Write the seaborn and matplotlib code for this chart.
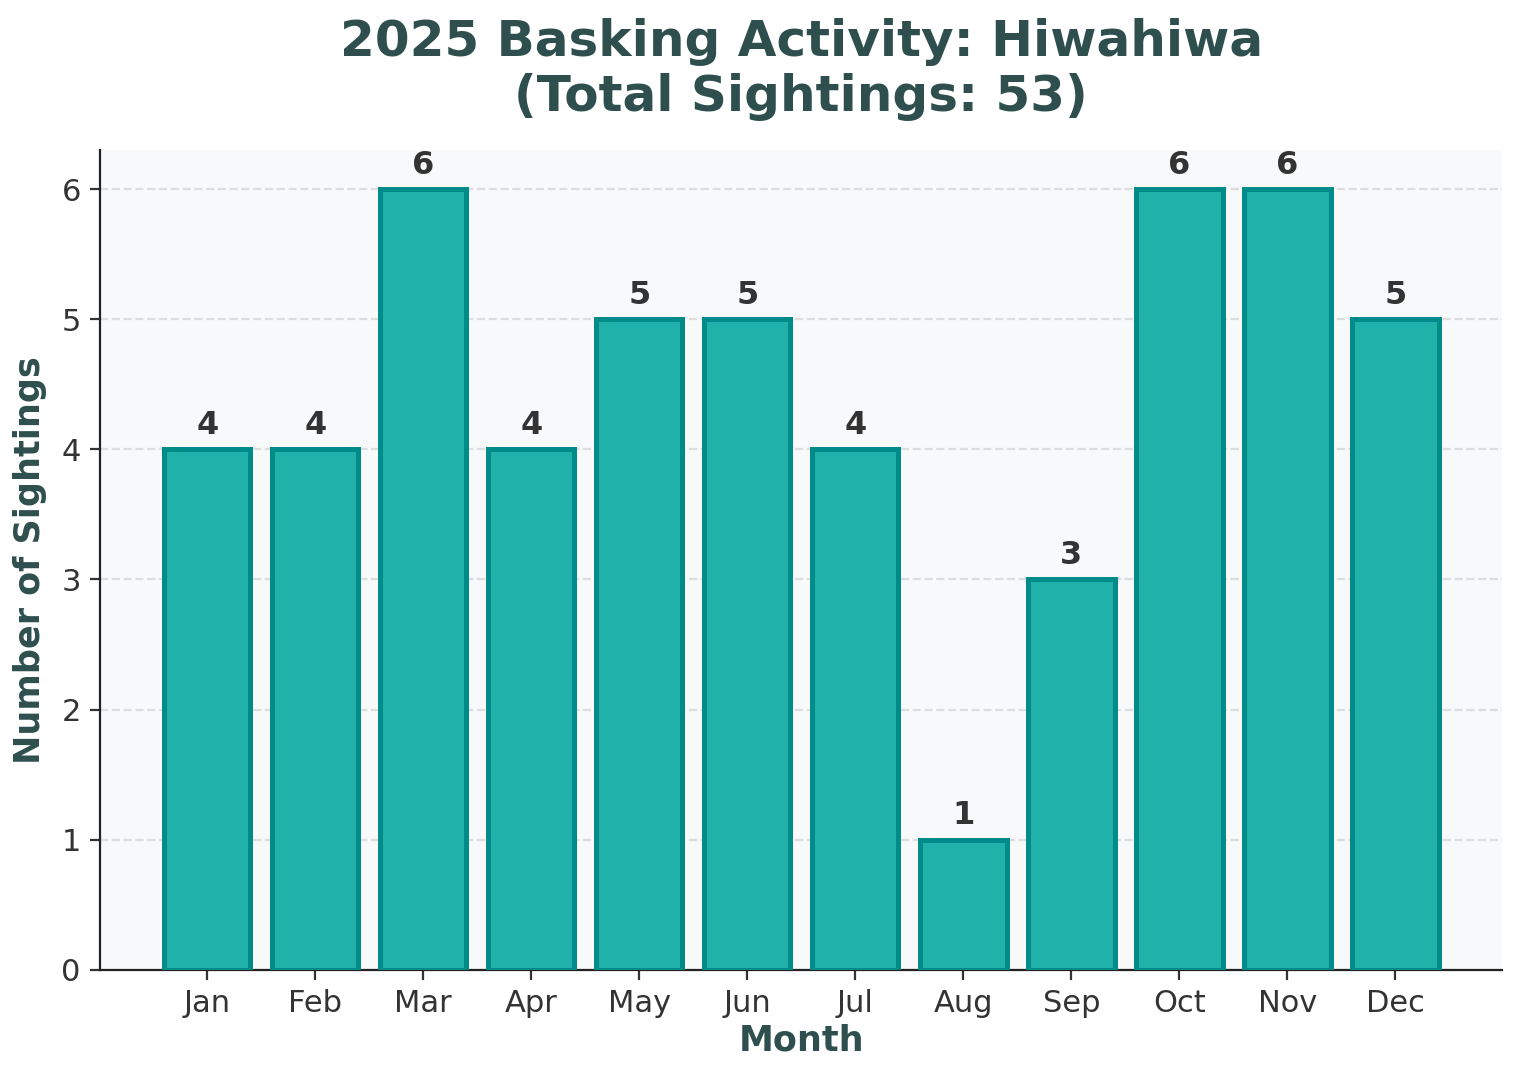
import matplotlib
matplotlib.use("Agg")
import matplotlib.pyplot as plt
import seaborn as sns
import pandas as pd

months = ["Jan", "Feb", "Mar", "Apr", "May", "Jun", "Jul", "Aug", "Sep", "Oct", "Nov", "Dec"]
sightings = [4, 4, 6, 4, 5, 5, 4, 1, 3, 6, 6, 5]
title = "2025 Basking Activity: Hiwahiwa\n(Total Sightings: 53)"

sns.set_style("ticks")
plt.rcParams['font.family'] = ['DejaVu Sans']

df = pd.DataFrame({"Month": months, "Sightings": sightings})

fig = plt.figure(figsize=(7.595, 5.4), dpi=200)
ax = fig.add_axes([0.066, 0.102, 0.923, 0.759])
ax.set_facecolor("#F8F9FA")

sns.barplot(data=df, x="Month", y="Sightings", ax=ax, color="#20B2AA",
            edgecolor="#008B8B", linewidth=1.8, width=0.8, saturation=1, zorder=3)

for i, v in enumerate(sightings):
    ax.annotate(str(v), (i, v), xytext=(0, 3), textcoords="offset points",
                ha="center", va="bottom", fontsize=11.5, fontweight="bold", color="#333333")

ax.set_xlim(-0.99, 11.99)
ax.set_ylim(0, 6.3)
ax.yaxis.grid(True, linestyle="--", color="#DDDDDD", linewidth=0.8, zorder=0)
ax.set_axisbelow(True)
sns.despine(ax=ax)
ax.spines["left"].set_color("#222222")
ax.spines["bottom"].set_color("#222222")
ax.tick_params(axis="both", labelsize=11, colors="#333333")

ax.set_xlabel("Month", fontsize=12.6, fontweight="bold", color="#2F4F4F", labelpad=2)
ax.set_ylabel("Number of Sightings", fontsize=12.6, fontweight="bold", color="#2F4F4F", labelpad=5)
ax.set_title(title, fontsize=18, fontweight="bold", color="#2F4F4F", pad=14)

fig.savefig("out.png", dpi=200, facecolor="white")
